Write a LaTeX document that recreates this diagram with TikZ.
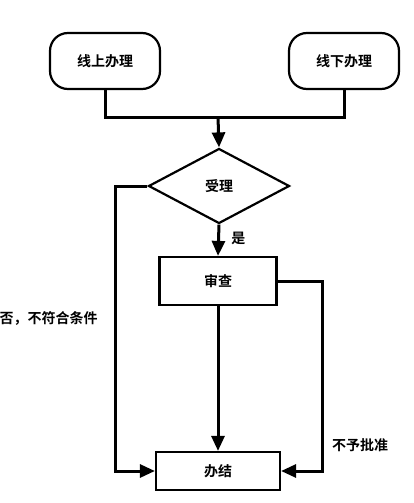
\documentclass[tikz,border=0pt]{standalone}
\usepackage{fontspec}
\newfontfamily\cjk{Noto Sans CJK SC}[BoldFont={Noto Sans CJK SC Bold}]
\usetikzlibrary{shapes.geometric,arrows.meta}
\begin{document}
\begin{tikzpicture}[x=1pt,y=-1pt,
  line width=3pt,
  every node/.style={font=\cjk\bfseries\fontsize{14}{16}\selectfont},
  term/.style={draw,rounded corners=18pt,minimum width=110pt,minimum height=56pt,line width=2.2pt},
  proc/.style={draw,minimum width=117pt,minimum height=48pt,line width=2.2pt},
  dec/.style={draw,diamond,aspect=1.88,minimum width=141pt,minimum height=75pt,inner sep=0pt,line width=2.2pt},
  lbl/.style={draw=none},
  arr/.style={-{Triangle[length=15pt,width=13pt]}}]
\useasboundingbox (0,0) rectangle (413,503);
\node[term] (on) at (105,61) {线上办理};
\node[term] (off) at (344,61) {线下办理};
\node[dec] (acc) at (219,186) {受理};
\node[proc] (rev) at (218,281) {审查};
\node[proc,minimum width=124pt,minimum height=38pt] (end) at (218,471) {办结};
\coordinate (j) at (218,117);
\draw (on.south) |- (j) -| (off.south);
\draw[arr] (j) -- (acc.north);
\draw[arr] (acc.south) -- node[lbl,right=8pt,pos=0.45]{是} (rev.north);
\draw[arr] (rev.south) -- (end.north);
\draw[arr] (acc.west) -| (115,471) -- (end.west);
\draw[arr] (rev.east) -| (322,471) -- (end.east);
\node[lbl,anchor=east,inner sep=0pt] (no) at (99,318) {否，不符合条件};
\node[lbl] (rej) at (360,445) {不予批准};
\end{tikzpicture}
\end{document}
